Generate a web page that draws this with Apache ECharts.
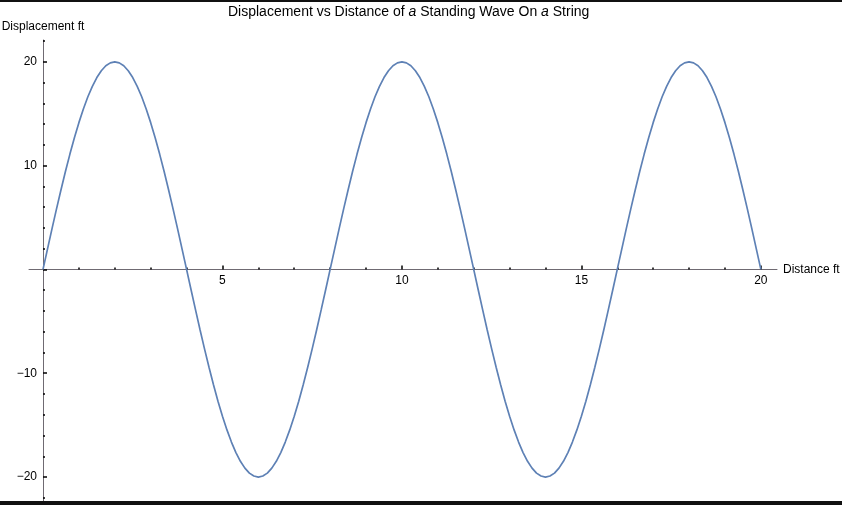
<!DOCTYPE html>
<html>
<head>
<meta charset="utf-8">
<script src="https://cdn.jsdelivr.net/npm/echarts@6/dist/echarts.min.js"></script>
<style>html,body{margin:0;padding:0;background:#fff}#c{width:842px;height:505px}</style>
</head>
<body>
<div id="c"></div>
<script>
const distance = [
  0,0.125,0.25,0.375,0.5,0.625,0.75,0.875,1,1.125,1.25,1.375,1.5,1.625,1.75,1.875,
  2,2.125,2.25,2.375,2.5,2.625,2.75,2.875,3,3.125,3.25,3.375,3.5,3.625,3.75,3.875,
  4,4.125,4.25,4.375,4.5,4.625,4.75,4.875,5,5.125,5.25,5.375,5.5,5.625,5.75,5.875,
  6,6.125,6.25,6.375,6.5,6.625,6.75,6.875,7,7.125,7.25,7.375,7.5,7.625,7.75,7.875,
  8,8.125,8.25,8.375,8.5,8.625,8.75,8.875,9,9.125,9.25,9.375,9.5,9.625,9.75,9.875,
  10,10.125,10.25,10.375,10.5,10.625,10.75,10.875,11,11.125,11.25,11.375,11.5,11.625,11.75,11.875,
  12,12.125,12.25,12.375,12.5,12.625,12.75,12.875,13,13.125,13.25,13.375,13.5,13.625,13.75,13.875,
  14,14.125,14.25,14.375,14.5,14.625,14.75,14.875,15,15.125,15.25,15.375,15.5,15.625,15.75,15.875,
  16,16.125,16.25,16.375,16.5,16.625,16.75,16.875,17,17.125,17.25,17.375,17.5,17.625,17.75,17.875,
  18,18.125,18.25,18.375,18.5,18.625,18.75,18.875,19,19.125,19.25,19.375,19.5,19.625,19.75,19.875,
  20];
const displacement = [
  0,1.96,3.9,5.81,7.65,9.43,11.11,12.69,14.14,15.46,16.63,17.64,18.48,19.14,19.62,19.9,
  20,19.9,19.62,19.14,18.48,17.64,16.63,15.46,14.14,12.69,11.11,9.43,7.65,5.81,3.9,1.96,
  0,-1.96,-3.9,-5.81,-7.65,-9.43,-11.11,-12.69,-14.14,-15.46,-16.63,-17.64,-18.48,-19.14,-19.62,-19.9,
  -20,-19.9,-19.62,-19.14,-18.48,-17.64,-16.63,-15.46,-14.14,-12.69,-11.11,-9.43,-7.65,-5.81,-3.9,-1.96,
  0,1.96,3.9,5.81,7.65,9.43,11.11,12.69,14.14,15.46,16.63,17.64,18.48,19.14,19.62,19.9,
  20,19.9,19.62,19.14,18.48,17.64,16.63,15.46,14.14,12.69,11.11,9.43,7.65,5.81,3.9,1.96,
  0,-1.96,-3.9,-5.81,-7.65,-9.43,-11.11,-12.69,-14.14,-15.46,-16.63,-17.64,-18.48,-19.14,-19.62,-19.9,
  -20,-19.9,-19.62,-19.14,-18.48,-17.64,-16.63,-15.46,-14.14,-12.69,-11.11,-9.43,-7.65,-5.81,-3.9,-1.96,
  0,1.96,3.9,5.81,7.65,9.43,11.11,12.69,14.14,15.46,16.63,17.64,18.48,19.14,19.62,19.9,
  20,19.9,19.62,19.14,18.48,17.64,16.63,15.46,14.14,12.69,11.11,9.43,7.65,5.81,3.9,1.96,
  0];
const xMajorTicks = [5,10,15,20];
const xMinorTicks = [1,2,3,4,6,7,8,9,11,12,13,14,16,17,18,19];
const yMajorTicks = [-20,-10,0,10,20];
const yLabelValues = [-20,-10,10,20];
const yMinorTicks = [-22,-18,-16,-14,-12,-8,-6,-4,-2,2,4,6,8,12,14,16,18,22];
const titleParts = ['Displacement vs Distance of ', 'a', ' Standing Wave On ', 'a', ' String'];

const FONT = '"Liberation Sans", Arial, sans-serif';
const fmt = v => String(v).replace('-', '\u2212');
const X_MIN = -0.39, X_MAX = 20.45, Y_MIN = -22.5, Y_MAX = 22.1;
const G_LEFT = 29, G_RIGHT = 65, G_TOP = 40, G_BOTTOM = 2;
const W = 842, H = 505;
const plotW = W - G_LEFT - G_RIGHT, plotH = H - G_TOP - G_BOTTOM;
// pixel position of value 0 on each axis, used to place the crossing axes
const zeroY = G_TOP + (Y_MAX - 0) / (Y_MAX - Y_MIN) * plotH;
const zeroX = G_LEFT + (0 - X_MIN) / (X_MAX - X_MIN) * plotW;

const axLine = { show: true, onZero: false, lineStyle: { color: '#6f6a72', width: 1 } };
const tick = (len, vals) => ({ show: true, inside: true, length: len, customValues: vals, lineStyle: { color: '#000', width: 1.5 } });
const hidden = (extra) => Object.assign({ type: 'value', show: false, splitLine: { show: false } }, extra);

const chart = echarts.init(document.getElementById('c'), null, { renderer: 'canvas' });
chart.setOption({
  animation: false,
  backgroundColor: '#fff',
  title: {
    text: titleParts.map((p, i) => (i % 2 ? '{i|' : '{n|') + p + '}').join(''),
    left: 223, top: 0,
    textStyle: {
      rich: {
        n: { fontFamily: FONT, fontSize: 14, color: '#000', fontWeight: 'normal' },
        i: { fontFamily: FONT, fontSize: 14, color: '#000', fontStyle: 'italic', fontWeight: 'normal' }
      }
    }
  },
  grid: [
    { left: G_LEFT, right: G_RIGHT, top: G_TOP, bottom: G_BOTTOM, containLabel: false, outerBoundsMode: 'none' },
    { left: G_LEFT, right: G_RIGHT, top: G_TOP, height: zeroY - G_TOP, containLabel: false, outerBoundsMode: 'none' },
    { left: zeroX, right: G_RIGHT, top: G_TOP, bottom: G_BOTTOM, containLabel: false, outerBoundsMode: 'none' }
  ],
  xAxis: [
    hidden({ gridIndex: 0, min: X_MIN, max: X_MAX }),
    {
      type: 'value', gridIndex: 1, min: X_MIN, max: X_MAX, position: 'bottom',
      axisLine: axLine, splitLine: { show: false },
      name: 'Distance ft', nameLocation: 'end', nameGap: 6,
      nameTextStyle: { fontFamily: FONT, fontSize: 12, color: '#000' },
      axisTick: tick(4, xMajorTicks),
      axisLabel: { show: true, customValues: xMajorTicks, margin: 5, fontFamily: FONT, fontSize: 12, color: '#000', formatter: fmt }
    },
    {
      type: 'value', gridIndex: 1, min: X_MIN, max: X_MAX, position: 'bottom',
      axisLine: { show: false }, splitLine: { show: false },
      axisTick: tick(2, xMinorTicks), axisLabel: { show: false }
    },
    hidden({ gridIndex: 2, min: 0, max: X_MAX })
  ],
  yAxis: [
    hidden({ gridIndex: 0, min: Y_MIN, max: Y_MAX }),
    hidden({ gridIndex: 1, min: 0, max: Y_MAX }),
    {
      type: 'value', gridIndex: 2, min: Y_MIN, max: Y_MAX, position: 'left',
      axisLine: axLine, splitLine: { show: false },
      name: 'Displacement ft', nameLocation: 'end', nameGap: 7,
      nameTextStyle: { fontFamily: FONT, fontSize: 12, color: '#000' },
      axisTick: tick(4, yMajorTicks),
      axisLabel: { show: true, customValues: yLabelValues, margin: 6, fontFamily: FONT, fontSize: 12, color: '#000', formatter: fmt }
    },
    {
      type: 'value', gridIndex: 2, min: Y_MIN, max: Y_MAX, position: 'left',
      axisLine: { show: false }, splitLine: { show: false },
      axisTick: tick(2, yMinorTicks), axisLabel: { show: false }
    }
  ],
  graphic: [
    { type: 'rect', shape: { x: 0, y: 0, width: 842, height: 2 }, style: { fill: '#111' }, silent: true, z: 100 },
    { type: 'rect', shape: { x: 0, y: 501, width: 842, height: 4 }, style: { fill: '#111' }, silent: true, z: 100 }
  ],
  series: [{
    type: 'line',
    xAxisIndex: 0, yAxisIndex: 0,
    data: distance.map((d, i) => [d, displacement[i]]),
    showSymbol: false, symbol: 'none',
    smooth: false,
    z: 5,
    lineStyle: { color: '#5E81B5', width: 1.7 }
  }]
});
</script>
</body>
</html>
